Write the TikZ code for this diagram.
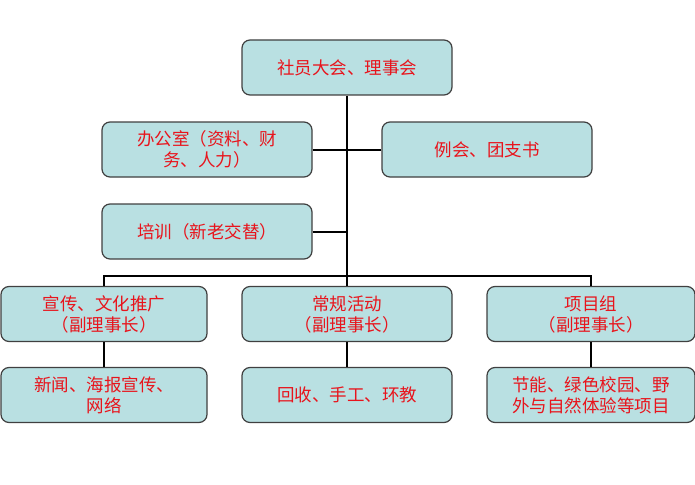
\documentclass[tikz,border=0pt]{standalone}
\usepackage{fontspec}
\newfontfamily\cjk{Noto Sans CJK SC}
\definecolor{boxfill}{HTML}{B9E0E2}
\definecolor{txtred}{HTML}{E8141C}
\begin{document}
\begin{tikzpicture}[x=1pt,y=-1pt,
  orgbox/.style={draw=black!75, line width=1.2pt, fill=boxfill, rounded corners=8pt,
    minimum height=55pt, text=txtred, font=\cjk\fontsize{17.5}{21}\selectfont, align=center, inner sep=2pt},
  link/.style={line width=2pt, draw=black}]
\useasboundingbox (0,0) rectangle (695,484);
\node[orgbox, minimum width=210pt] (top) at (347,67.5) {社员大会、理事会};
\node[orgbox, minimum width=210pt] (office) at (207,149.5) {办公室（资料、财\\务、人力）};
\node[orgbox, minimum width=210pt] (meet) at (487,149.5) {例会、团支书};
\node[orgbox, minimum width=210pt] (train) at (207,231.5) {培训（新老交替）};
\node[orgbox, minimum width=206pt] (pub) at (104,314) {宣传、文化推广\\（副理事长）};
\node[orgbox, minimum width=210pt] (act) at (347,314) {常规活动\\（副理事长）};
\node[orgbox, minimum width=208pt] (proj) at (591,314) {项目组\\（副理事长）};
\node[orgbox, minimum width=206pt] (news) at (104,395) {新闻、海报宣传、\\网络};
\node[orgbox, minimum width=210pt] (recy) at (347,395) {回收、手工、环教};
\node[orgbox, minimum width=208pt] (items) at (591,395) {节能、绿色校园、野\\外与自然体验等项目};
\coordinate (bus) at (347,276);
\draw[link] (top.south) -- (bus);
\draw[link] (office.east) -- (office.east -| top.south);
\draw[link] (meet.west) -- (meet.west -| top.south);
\draw[link] (train.east) -- (train.east -| top.south);
\draw[link] (pub.north) |- (bus) -| (proj.north);
\draw[link] (bus) -- (act.north);
\draw[link] (pub.south) -- (news.north);
\draw[link] (act.south) -- (recy.north);
\draw[link] (proj.south) -- (items.north);
\end{tikzpicture}
\end{document}
